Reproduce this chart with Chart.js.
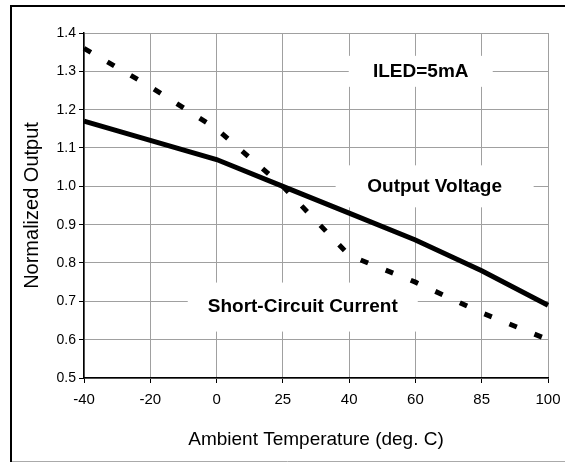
<!DOCTYPE html>
<html>
<head>
<meta charset="utf-8">
<script src="https://cdn.jsdelivr.net/npm/chart.js@4/dist/chart.umd.min.js"></script>
<style>
  html, body { margin: 0; padding: 0; background: #fff; }
  canvas { display: block; }
</style>
</head>
<body>
<canvas id="chart" width="565" height="464"></canvas>
<script>
const temperatures = ['-40', '-20', '0', '25', '40', '60', '85', '100'];
const outputVoltage = [1.17, 1.12, 1.07, 1.00, 0.93, 0.86, 0.78, 0.69];
const shortCircuitCurrent = [1.36, 1.26, 1.15, 1.00, 0.82, 0.75, 0.67, 0.60];
const yTicks = [0.5, 0.6, 0.7, 0.8, 0.9, 1.0, 1.1, 1.2, 1.3, 1.4];

// text boxes placed in data space (category index, value)
const notes = [
    { text: 'ILED=5mA', x: 5.08, y: 1.30, w: 144, h: 31 },
    { text: 'Output Voltage', x: 5.29, y: 1.00, w: 198, h: 42 },
    { text: 'Short-Circuit Current', x: 3.30, y: 0.685, w: 230, h: 49 }
];

const fontFamily = '"Liberation Sans", Arial, sans-serif';

const notesPlugin = {
    id: 'notes',
    beforeDatasetsDraw(chart) {
        const { ctx, scales: { x, y } } = chart;
        ctx.save();
        ctx.font = 'bold 19px ' + fontFamily;
        ctx.textAlign = 'center';
        ctx.textBaseline = 'middle';
        notes.forEach((n) => {
            const px = x.getPixelForValue(n.x);
            const py = y.getPixelForValue(n.y);
            ctx.fillStyle = '#fff';
            ctx.fillRect(px - n.w / 2, py - n.h / 2, n.w, n.h);
            ctx.fillStyle = '#000';
            ctx.fillText(n.text, px, py);
        });
        ctx.restore();
    }
};

const framePlugin = {
    id: 'frame',
    afterDraw(chart) {
        const { ctx, width, height } = chart;
        ctx.save();
        ctx.strokeStyle = '#aaa';
        ctx.lineWidth = 1;
        ctx.beginPath();
        ctx.moveTo(10, height - 2.5);
        ctx.lineTo(width, height - 2.5);
        ctx.stroke();
        ctx.strokeStyle = '#000';
        ctx.lineWidth = 2;
        ctx.beginPath();
        ctx.moveTo(width, 6);
        ctx.lineTo(11, 6);
        ctx.lineTo(11, height - 2);
        ctx.stroke();
        ctx.restore();
    }
};

new Chart(document.getElementById('chart'), {
    type: 'line',
    data: {
        labels: temperatures,
        datasets: [{
            label: 'Output Voltage',
            data: outputVoltage,
            borderColor: '#000',
            borderWidth: 5,
            pointRadius: 0,
            tension: 0
        }, {
            label: 'Short-Circuit Current',
            data: shortCircuitCurrent,
            borderColor: '#000',
            borderWidth: 5,
            borderDash: [8, 19],
            pointRadius: 0,
            tension: 0
        }]
    },
    options: {
        responsive: false,
        animation: false,
        layout: { padding: { top: 33, right: 17, left: 0, bottom: 0 } },
        plugins: {
            legend: { display: false },
            tooltip: { enabled: false }
        },
        scales: {
            x: {
                grid: { color: '#a0a0a0', tickColor: '#000', tickLength: 5 },
                border: { color: '#000', width: 1.5 },
                ticks: {
                    color: '#000',
                    padding: 8,
                    maxRotation: 0,
                    font: { family: fontFamily, size: 15 }
                },
                title: {
                    display: true,
                    text: 'Ambient Temperature (deg. C)',
                    color: '#000',
                    font: { family: fontFamily, size: 19, lineHeight: 1.2 },
                    padding: { top: 0, bottom: 13 }
                },
                afterFit(scale) {
                    scale.height = 86;
                    scale.paddingRight = 0;
                    scale.paddingLeft = 0;
                }
            },
            y: {
                min: 0.5,
                max: 1.4,
                afterBuildTicks(scale) {
                    scale.ticks = yTicks.map((v) => ({ value: v }));
                },
                grid: { color: '#a0a0a0', tickColor: '#000', tickLength: 5 },
                border: { color: '#000', width: 1.5 },
                ticks: {
                    color: '#000',
                    padding: 3,
                    font: { family: fontFamily, size: 14 },
                    callback: (v) => Number(v).toFixed(1)
                },
                title: {
                    display: true,
                    text: 'Normalized Output',
                    color: '#000',
                    font: { family: fontFamily, size: 20, lineHeight: 1.2 },
                    padding: { top: 20, bottom: 0 }
                },
                afterFit(scale) { scale.width = 84; }
            }
        }
    },
    plugins: [notesPlugin, framePlugin]
});
</script>
</body>
</html>
